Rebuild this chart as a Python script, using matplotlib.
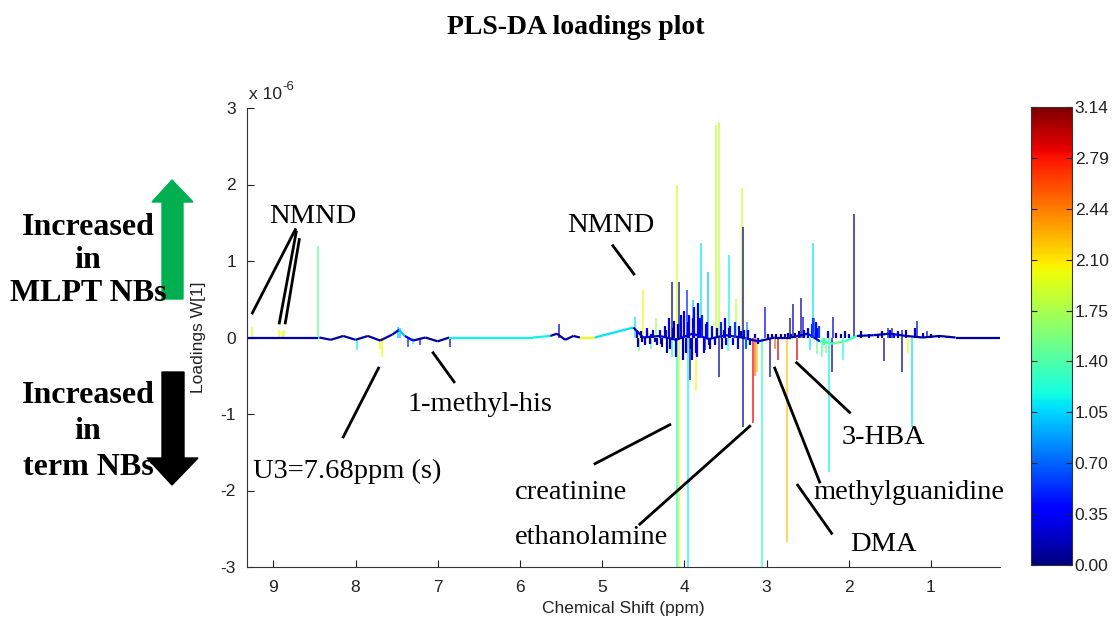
import numpy as np
import matplotlib
matplotlib.use("Agg")
import matplotlib.pyplot as plt
from matplotlib import rcParams
from matplotlib.patches import Polygon
from matplotlib.collections import LineCollection

rcParams["font.family"] = "sans-serif"
rcParams["font.sans-serif"] = ["Liberation Sans"]
rcParams["axes.unicode_minus"] = False

### data ###
# baseline of the loadings trace (ppm, loading x1e-6, colour value)
base_ppm = [9.32, 8.46, 8.44, 8.30, 8.15, 8.00, 7.85, 7.70, 7.55, 7.47, 7.40, 7.30, 7.15, 7.00,
            6.86, 5.84, 5.63, 5.55, 5.45, 5.35, 5.27, 5.09, 4.62, 4.50, 4.30, 4.10, 3.90, 3.70,
            3.50, 3.30, 3.10, 2.90, 2.70, 2.50, 2.35, 2.20, 2.05, 1.90, 1.70, 1.50, 1.30, 1.10,
            0.90, 0.70, 0.50, 0.16]
base_val = [0.0, 0.0, 0.0, -0.03, 0.02, -0.03, 0.02, -0.04, 0.04, 0.10, 0.02, -0.04, 0.0, -0.05,
            0.0, 0.0, 0.02, 0.05, -0.03, 0.02, 0.0, 0.0, 0.13, 0.0, 0.02, -0.03, 0.05, -0.02,
            0.03, 0.0, -0.05, 0.0, 0.0, 0.05, -0.05, -0.08, -0.05, 0.02, 0.03, 0.05, 0.02, 0.0,
            0.02, 0.0, 0.0, 0.0]
base_col = [0.15, 1.2, 0.15, 0.1, 0.1, 0.1, 0.1, 0.1, 0.2, 1.0, 0.3, 0.1, 0.1, 0.1,
            1.15, 1.15, 0.1, 0.1, 0.1, 0.1, 2.0, 1.1, 0.15, 0.1, 0.15, 0.1, 0.2, 0.1,
            0.1, 0.1, 0.1, 0.1, 0.1, 0.3, 1.4, 1.5, 1.3, 0.1, 0.1, 0.15, 0.1, 0.1,
            0.1, 0.1, 0.1, 0.1]

# main peaks (ppm, loading x1e-6, colour value)
peak_ppm = [9.255, 8.927, 8.900, 8.866, 8.453, 7.979, 7.700, 7.676, 7.481, 7.460, 7.360, 7.300,
            7.214, 6.849,
            5.525,
            4.601, 4.504, 4.346, 4.152, 4.091, 4.067, 3.970, 3.897, 3.800, 3.714, 3.617, 3.581,
            3.459, 3.370, 3.301, 3.290, 3.240, 3.022, 2.718, 2.682, 2.584, 2.560, 2.439, 2.420,
            2.196, 1.940, 1.527, 1.479, 1.357, 1.175, 1.054,
            4.550, 4.400, 4.152, 4.091, 4.067, 3.960, 3.935, 3.860, 3.750, 3.581, 3.470, 3.290,
            3.168, 3.140, 3.119, 3.058, 2.961, 2.900, 2.864, 2.754, 2.633, 2.475, 2.390, 2.330,
            2.280, 2.244, 2.200, 2.074, 1.576, 1.357, 1.284, 1.236]
peak_val = [0.14, 0.10, 0.08, 0.10, 1.19, -0.16, -0.15, -0.26, 0.14, 0.12, -0.12, -0.08,
            -0.10, -0.13,
            0.17,
            0.27, 0.62, 0.26, 0.72, 2.00, 0.73, 0.62, 0.49, 1.24, 0.86, 2.78, 2.82,
            1.08, 0.50, 1.96, 1.45, 0.20, 0.40, 0.26, 0.44, 0.51, 0.27, 1.24, 0.25,
            0.27, 1.61, 0.13, 0.12, 0.10, 0.21, 0.08,
            -0.18, -0.15, -0.26, -3.40, -3.40, -3.40, -0.55, -0.70, -0.16, -0.52, -0.18, -1.17,
            -1.12, -0.50, -0.45, -3.40, -0.51, -0.15, -0.29, -2.67, -0.29, -0.16, -0.22, -0.25,
            -0.20, -1.76, -0.45, -0.29, -0.31, -0.45, -0.20, -1.17]
peak_col = [2.0, 2.0, 2.0, 2.0, 1.5, 1.15, 2.0, 2.0, 1.0, 1.0, 0.5, 1.2,
            0.4, 0.1,
            0.2,
            1.1, 2.0, 1.7, 0.1, 1.95, 0.1, 0.5, 1.0, 1.1, 1.0, 1.85, 1.85,
            1.15, 1.8, 1.9, 0.1, 0.8, 0.4, 0.1, 0.1, 0.1, 0.3, 1.1, 0.6,
            0.2, 0.05, 0.3, 0.3, 0.2, 0.2, 0.2,
            1.5, 1.3, 1.2, 1.2, 1.95, 1.15, 0.1, 2.0, 0.2, 0.05, 1.2, 0.1,
            2.85, 2.5, 2.2, 1.3, 0.1, 2.5, 2.9, 2.2, 2.9, 1.1, 1.5, 1.4,
            1.6, 1.15, 0.1, 1.2, 0.1, 0.05, 2.0, 1.1]

# small noisy signals in the crowded 4.6-0.8 ppm region
noise_ppm = [4.58, 4.56, 4.53, 4.51, 4.48, 4.46, 4.45, 4.42, 4.40, 4.38, 4.36, 4.33, 4.30, 4.28,
             4.27, 4.24, 4.22, 4.21, 4.19, 4.17, 4.14, 4.12, 4.10, 4.08, 4.04, 4.02, 4.00, 3.98,
             3.95, 3.94, 3.92, 3.91, 3.89, 3.88, 3.86, 3.85, 3.83, 3.81, 3.78, 3.76, 3.74, 3.72,
             3.70, 3.69, 3.66, 3.63, 3.60, 3.56, 3.54, 3.52, 3.51, 3.49, 3.46, 3.44, 3.41, 3.38,
             3.35, 3.33, 3.31, 3.27, 3.25, 3.22, 3.20, 3.14, 3.10, 2.98, 2.93, 2.88, 2.82, 2.78,
             2.74, 2.70, 2.65, 2.60, 2.55, 2.50, 2.45, 2.43, 2.40, 2.38, 2.36, 2.30, 2.25, 2.15,
             2.10, 2.05, 2.00, 1.85, 1.75, 1.65, 1.60, 1.50, 1.45, 1.40, 1.30, 1.20, 1.10, 1.00,
             0.90, 0.80]
noise_val = [0.10, -0.12, 0.08, -0.06, -0.10, 0.06, 0.12, -0.08, 0.05, 0.10, -0.06, -0.10, 0.10, -0.08,
             -0.12, 0.15, 0.10, -0.20, 0.25, -0.15, 0.12, 0.22, -0.25, 0.18, 0.30, -0.30, 0.35, -0.20,
             0.20, 0.30, -0.15, -0.30, 0.25, 0.40, -0.20, -0.25, 0.45, 0.25, 0.30, -0.20, 0.18, 0.20,
             -0.10, -0.15, 0.15, -0.10, 0.12, 0.20, -0.15, 0.10, 0.25, -0.10, 0.12, 0.15, -0.10, 0.20,
             -0.15, 0.15, 0.08, 0.10, -0.15, 0.10, -0.10, 0.05, -0.08, 0.04, 0.05, 0.04, 0.05, 0.04,
             0.06, 0.05, 0.06, 0.08, 0.10, 0.12, 0.18, 0.25, 0.20, 0.12, 0.15, -0.10, 0.08, 0.06,
             0.05, 0.08, 0.05, 0.08, 0.05, 0.04, 0.08, 0.10, 0.06, 0.08, 0.10, 0.12, 0.06, 0.05,
             0.03, 0.02]
noise_col = [0.2, 0.1, 0.1, 0.1, 0.2, 0.1, 0.3, 0.1, 0.2, 0.2, 0.1, 0.1, 0.3, 0.1,
             0.1, 0.2, 0.1, 0.1, 0.3, 0.2, 0.1, 0.1, 0.2, 0.1, 0.3, 0.1, 0.35, 0.2,
             0.1, 0.3, 0.1, 0.2, 0.1, 0.4, 0.2, 0.3, 0.4, 0.2, 0.5, 0.3, 0.2, 0.35,
             0.1, 0.2, 0.3, 0.2, 0.1, 0.5, 0.2, 0.1, 0.35, 0.2, 0.1, 0.3, 0.2, 0.6,
             0.4, 0.2, 0.1, 0.3, 0.7, 0.35, 0.2, 0.2, 0.4, 0.1, 0.1, 0.1, 0.1, 0.1,
             0.1, 0.1, 0.1, 0.1, 0.2, 0.35, 0.5, 0.6, 0.4, 0.3, 0.6, 1.3, 0.3, 0.2,
             0.1, 0.2, 0.2, 0.1, 0.2, 0.1, 0.1, 0.2, 0.3, 0.2, 0.1, 0.2, 0.1, 0.1,
             0.1, 0.1]

cbar_ticks = np.linspace(0, np.pi, 10)
cbar_labels = ["0.00", "0.35", "0.70", "1.05", "1.40", "1.75", "2.10", "2.44", "2.79", "3.14"]

# annotations: label, text pos (ppm, val), alignment, leader lines
notes = [
    ("NMND", (8.514, 1.58), "center", [((8.733, 1.41), (9.255, 0.32)),
                                        ((8.721, 1.38), (8.927, 0.19)),
                                        ((8.684, 1.28), (8.854, 0.19))]),
    ("NMND", (4.893, 1.47), "center", [((4.869, 1.20), (4.614, 0.83))]),
    ("1-methyl-his", (7.372, -0.87), "left", [((7.056, -0.20), (6.801, -0.58))]),
    ("U3=7.68ppm (s)", (9.243, -1.745), "left", [((8.149, -1.30), (7.720, -0.40))]),
    ("creatinine", (6.060, -2.03), "left", [((5.087, -1.65), (4.176, -1.14))]),
    ("ethanolamine", (6.060, -2.62), "left", [((4.541, -2.44), (3.204, -1.16))]),
    ("methylguanidine", (2.426, -2.03), "left", [((2.354, -1.89), (2.900, -0.40))]),
    ("DMA", (1.977, -2.70), "left", [((2.208, -2.56), (2.621, -1.93))]),
    ("3-HBA", (2.086, -1.31), "left", [((1.989, -0.98), (2.633, -0.33))]),
]

W, H = 1118, 625
def px(x, y):
    return (x / W, 1 - y / H)

cmap = plt.get_cmap("jet")
norm = matplotlib.colors.Normalize(vmin=0, vmax=np.pi)

fig = plt.figure(figsize=(W / 100, H / 100), dpi=100)
ax = fig.add_axes([247 / W, 1 - 567 / H, (1000 - 247) / W, (567 - 108) / H])

# peaks
ax.vlines(peak_ppm, 0, peak_val, colors=cmap(norm(np.array(peak_col))), linewidths=1.1, alpha=0.85)

# baseline trace
pts = np.column_stack([base_ppm, base_val])
segs = np.stack([pts[:-1], pts[1:]], axis=1)
ax.add_collection(LineCollection(segs, colors=cmap(norm(np.array(base_col[:-1]))), linewidths=1.6))

ax.vlines(noise_ppm, 0, noise_val, colors=cmap(norm(np.array(noise_col))), linewidths=1.6)

ax.set_xlim(9.32, 0.16)
ax.set_ylim(-3, 3)
ax.set_xticks(range(9, 0, -1))
ax.set_yticks(range(-3, 4))
ax.tick_params(direction="in", length=5, labelsize=12.5, colors="#222222")
ax.tick_params(axis="x", pad=9)
ax.tick_params(axis="y", pad=8)
for s in ["top", "right"]:
    ax.spines[s].set_visible(False)
for s in ["left", "bottom"]:
    ax.spines[s].set_color("#333333")
ax.set_xlabel("Chemical Shift (ppm)", fontsize=12.5, color="#222222")
ax.set_ylabel("Loadings W[1]", fontsize=12.5, color="#222222")
ax.xaxis.set_label_coords(0.5, -0.075)
ax.yaxis.set_label_coords(-0.055, 0.5)
ax.text(0.002, 1.012, "x 10", transform=ax.transAxes, fontsize=12.5,
        color="#222222", va="bottom", ha="left")
ax.text(0.047, 1.032, "-6", transform=ax.transAxes, fontsize=9.5,
        color="#222222", va="bottom", ha="left")

# annotations
for label, tpos, ha, lines in notes:
    ax.text(tpos[0], tpos[1], label, family="Liberation Serif", fontsize=20.5,
            ha=ha, va="center")
    for (x0, y0), (x1, y1) in lines:
        ax.plot([x0, x1], [y0, y1], color="black", lw=2, clip_on=False)

# colorbar
cax = fig.add_axes([1031 / W, 1 - 565 / H, 41 / W, (565 - 107) / H])
sm = matplotlib.cm.ScalarMappable(norm=norm, cmap=cmap)
cb = fig.colorbar(sm, cax=cax, ticks=cbar_ticks)
cb.ax.set_yticklabels(cbar_labels)
cb.ax.tick_params(direction="in", length=4, labelsize=12.5, colors="#222222", pad=2,
                  left=True, right=True)
cb.outline.set_edgecolor("#333333")

# title and side labels
fig.text(*px(576, 27), "PLS-DA loadings plot", family="Liberation Serif", fontweight="bold",
         fontsize=20, ha="center", va="center")
for txt, y in [("Increased", 235), ("in", 268), ("MLPT NBs", 301),
               ("Increased", 403), ("in", 439), ("term NBs", 475)]:
    fig.text(*px(88, y), txt, family="Liberation Serif", fontweight="bold", fontsize=23,
             ha="center", va="baseline", zorder=3)

green_arrow = [(162, 299), (162, 202), (152, 202), (172, 180), (193, 202), (183, 202), (183, 299)]
black_arrow = [(162, 372), (162, 458), (147, 458), (172, 485), (198, 458), (184, 458), (184, 372)]
fig.patches.append(Polygon([px(*p) for p in green_arrow], closed=True, color="#00b050",
                           transform=fig.transFigure, zorder=2))
fig.patches.append(Polygon([px(*p) for p in black_arrow], closed=True, color="black",
                           transform=fig.transFigure, zorder=2))

fig.savefig("out.png", dpi=100)
